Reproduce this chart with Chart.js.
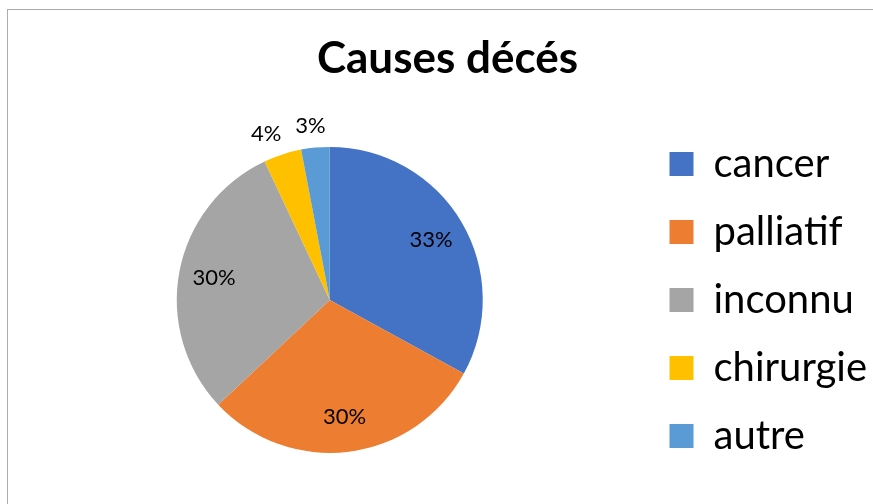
<!DOCTYPE html>
<html>
<head>
<meta charset="utf-8">
<script src="https://cdn.jsdelivr.net/npm/chart.js@4.4.1/dist/chart.umd.min.js"></script>
<style>
  html, body { margin: 0; padding: 0; background: #fff; overflow: hidden; }
  body { width: 873px; height: 504px; position: relative; }
  #cadre {
    position: absolute; left: 7px; top: 9px;
    border-left: 1px solid #ababab; border-top: 1px solid #ababab;
  }
  #cadre canvas { display: block; }
</style>
</head>
<body>
<div id="cadre"><canvas id="graphique" width="878" height="494"></canvas></div>
<script>
// Répartition des causes de décès (%)
const causes = ['cancer', 'palliatif', 'inconnu', 'chirurgie', 'autre'];
const pourcentages = [33, 30, 30, 4, 3];
const couleurs = ['#4472C4', '#ED7D31', '#A5A5A5', '#FFC000', '#5B9BD5'];

// Étiquettes des pourcentages : dans la part si elle est grande, sinon à l'extérieur
const etiquettes = {
    id: 'etiquettes',
    afterDatasetsDraw(chart) {
        const c = chart.ctx;
        const arcs = chart.getDatasetMeta(0).data;
        c.save();
        c.font = '22px Lato';
        c.fillStyle = '#000';
        c.textAlign = 'center';
        c.textBaseline = 'middle';
        arcs.forEach((arc, i) => {
            const p = arc.getProps(['x', 'y', 'startAngle', 'endAngle', 'outerRadius'], true);
            const milieu = (p.startAngle + p.endAngle) / 2;
            const dx = Math.cos(milieu), dy = Math.sin(milieu);
            const texte = pourcentages[i] + '%';
            if (pourcentages[i] >= 10) {
                const r = p.outerRadius * 0.77;
                c.fillText(texte, p.x + dx * r, p.y + dy * r);
            } else {
                // décalage latéral pour que les petites parts ne se chevauchent pas
                const r = p.outerRadius + 22;
                const w = c.measureText(texte).width;
                c.fillText(texte, p.x + dx * r + dx * w, p.y + dy * r);
            }
        });
        c.restore();
    }
};

const ctx = document.getElementById('graphique').getContext('2d');

const graphique = new Chart(ctx, {
    type: 'pie',
    data: {
        labels: causes,
        datasets: [{
            data: pourcentages,
            backgroundColor: couleurs,
            borderWidth: 0,
            radius: 153
        }]
    },
    options: {
        responsive: false,
        animation: false,
        layout: {
            padding: { left: 10, right: 9, top: 0, bottom: 4 }
        },
        plugins: {
            title: {
                display: true,
                text: 'Causes décés',
                color: '#000',
                font: { family: 'Lato', size: 44, weight: 'bold', lineHeight: 1.2 },
                padding: { top: 22, bottom: 15 }
            },
            legend: {
                position: 'right',
                fullSize: false,
                labels: {
                    color: '#000',
                    boxWidth: 24,
                    boxHeight: 24,
                    padding: 28,
                    font: { family: 'Lato', size: 40 }
                }
            },
            tooltip: { enabled: false }
        }
    },
    plugins: [etiquettes]
});
</script>
</body>
</html>
